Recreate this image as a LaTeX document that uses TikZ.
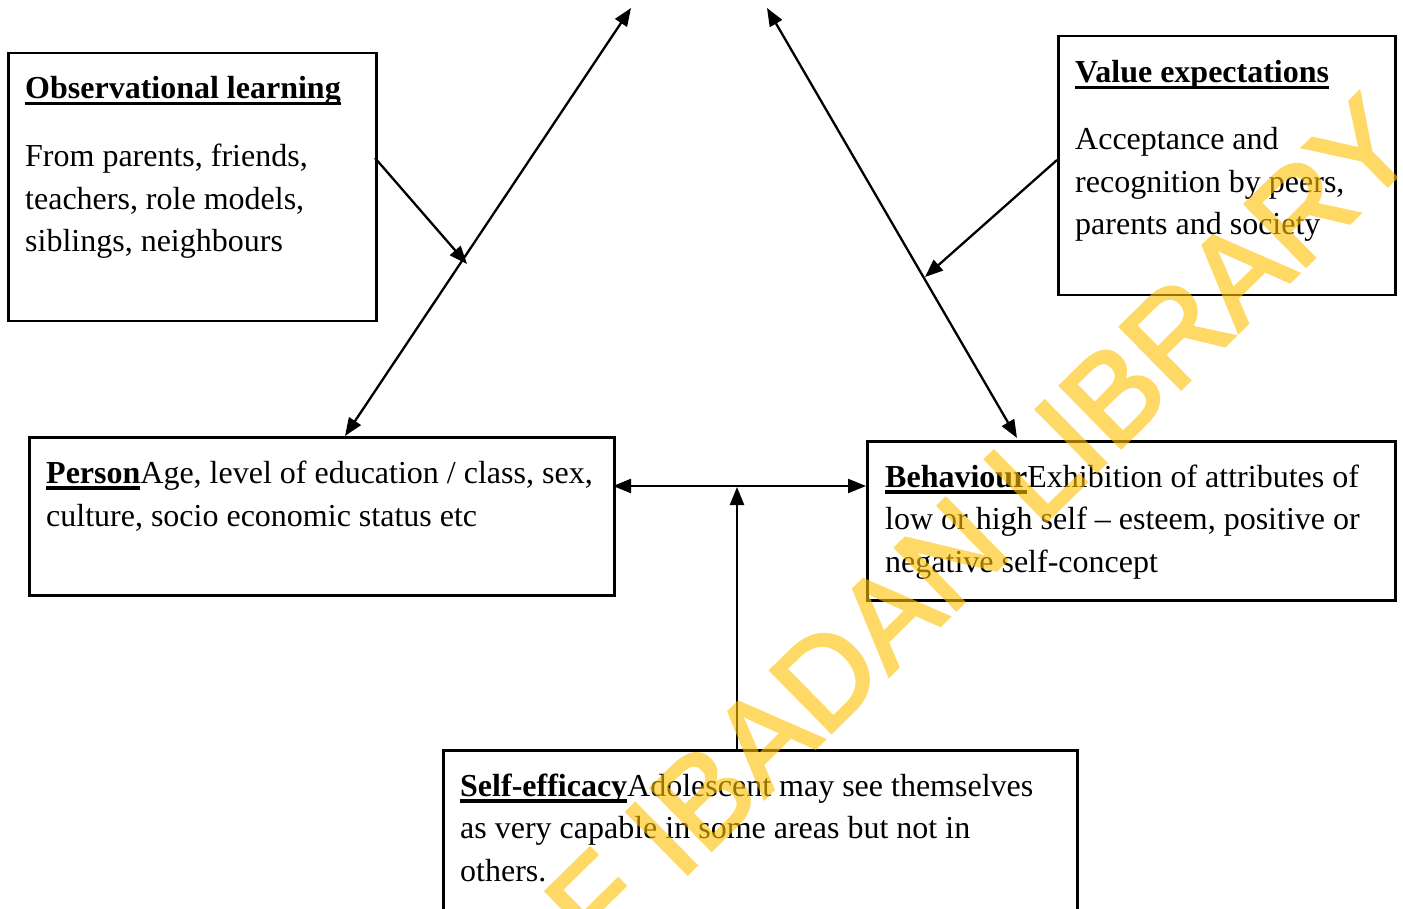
\documentclass[tikz,border=0pt]{standalone}
\usepackage{fontspec}
\setmainfont{Liberation Serif}
\newfontfamily\wmfont[FakeBold=2.5]{Liberation Sans}
\usetikzlibrary{arrows.meta}
\definecolor{wmyellow}{RGB}{255,192,0}
\newsavebox\ulbox
\newcommand\ulword[1]{\sbox\ulbox{\bfseries #1}\rlap{\rule[-6.5pt]{\wd\ulbox}{3.5pt}}\usebox\ulbox}
\begin{document}
\begin{tikzpicture}[x=1pt,y=-1pt,
  box/.style={draw, line width=2.5pt, inner sep=0pt, anchor=north west},
  txt/.style={anchor=base west, inner sep=0pt, font=\fontsize{32}{43}\selectfont},
  conn/.style={line width=2.3pt},
  dbl/.style={conn, {Triangle[length=18pt,width=14pt]}-{Triangle[length=18pt,width=14pt]}},
  sgl/.style={conn, -{Triangle[length=18pt,width=14pt]}},
  wm/.style={anchor=base east, inner sep=0pt, text=wmyellow,
    font=\wmfont\fontsize{126}{126}\selectfont, rotate=44.5}]
\useasboundingbox (0,0) rectangle (1403,909);
\fill[white] (0,0) rectangle (1403,909);
\clip (0,0) rectangle (1403,909);

% boxes
\node[box, minimum width=368pt, minimum height=268pt] (obs) at (7,52) {};
\node[box, minimum width=337pt, minimum height=259pt] (val) at (1057,35) {};
\node[box, minimum width=585pt, minimum height=158pt] (per) at (28,436) {};
\node[box, minimum width=528pt, minimum height=159pt] (beh) at (866,440) {};
\node[box, minimum width=634pt, minimum height=250pt] (sel) at (442,749) {};

% texts
\node[txt] (obsH) at (25,99) {\ulword{Observational learning}};
\node[txt] (obs1) at (25,166.7) {From parents, friends,};
\node[txt] (obs2) at (25,209.3) {teachers, role models,};
\node[txt] (obs3) at (25,251.7) {siblings, neighbours};

\node[txt] (valH) at (1075,82.7) {\ulword{Value expectations}};
\node[txt] (val1) at (1075,150) {Acceptance and};
\node[txt] (val2) at (1075,192.7) {recognition by peers,};
\node[txt] (val3) at (1075,235) {parents and society};

\node[txt] (per1) at (46,483) {\ulword{Person}Age, level of education / class, sex,};
\node[txt] (per2) at (46,526) {culture, socio economic status etc};

\node[txt] (beh1) at (885,487) {\ulword{Behaviour}Exhibition of attributes of};
\node[txt] (beh2) at (885,529.5) {low or high self -- esteem, positive or};
\node[txt] (beh3) at (885,572) {negative self-concept};

\node[txt] (sel1) at (460,796) {\ulword{Self-efficacy}Adolescent may see themselves};
\node[txt] (sel2) at (460,838.5) {as very capable in some areas but not in};
\node[txt] (sel3) at (460,881) {others.};

% connector ends
\coordinate (topL) at (631,8);
\coordinate (perTop) at (345,436);
\coordinate (topR) at (767,8);
\coordinate (behTop) at (1017,438);
\coordinate (obsOut) at (375,158);
\coordinate (obsTip) at (467,264);
\coordinate (valOut) at (1057,160);
\coordinate (valTip) at (925,277);
\coordinate (perOut) at (613,486);
\coordinate (behIn) at (866,486);
\coordinate (selOut) at (737,749);
\coordinate (midTip) at (737,487);

\draw[dbl] (perTop) -- (topL);
\draw[dbl] (topR) -- (behTop);
\draw[sgl] (obsOut) -- (obsTip);
\draw[sgl] (valOut) -- (valTip);
\draw[dbl] (perOut) -- (behIn);
\draw[sgl] (selOut) -- (midTip);

% watermark
\begin{scope}[transparency group, opacity=0.6]
\node[wm] (wmark) at (1422,152) {UNIVERSITY OF IBADAN LIBRARY};
\end{scope}
\end{tikzpicture}
\end{document}
